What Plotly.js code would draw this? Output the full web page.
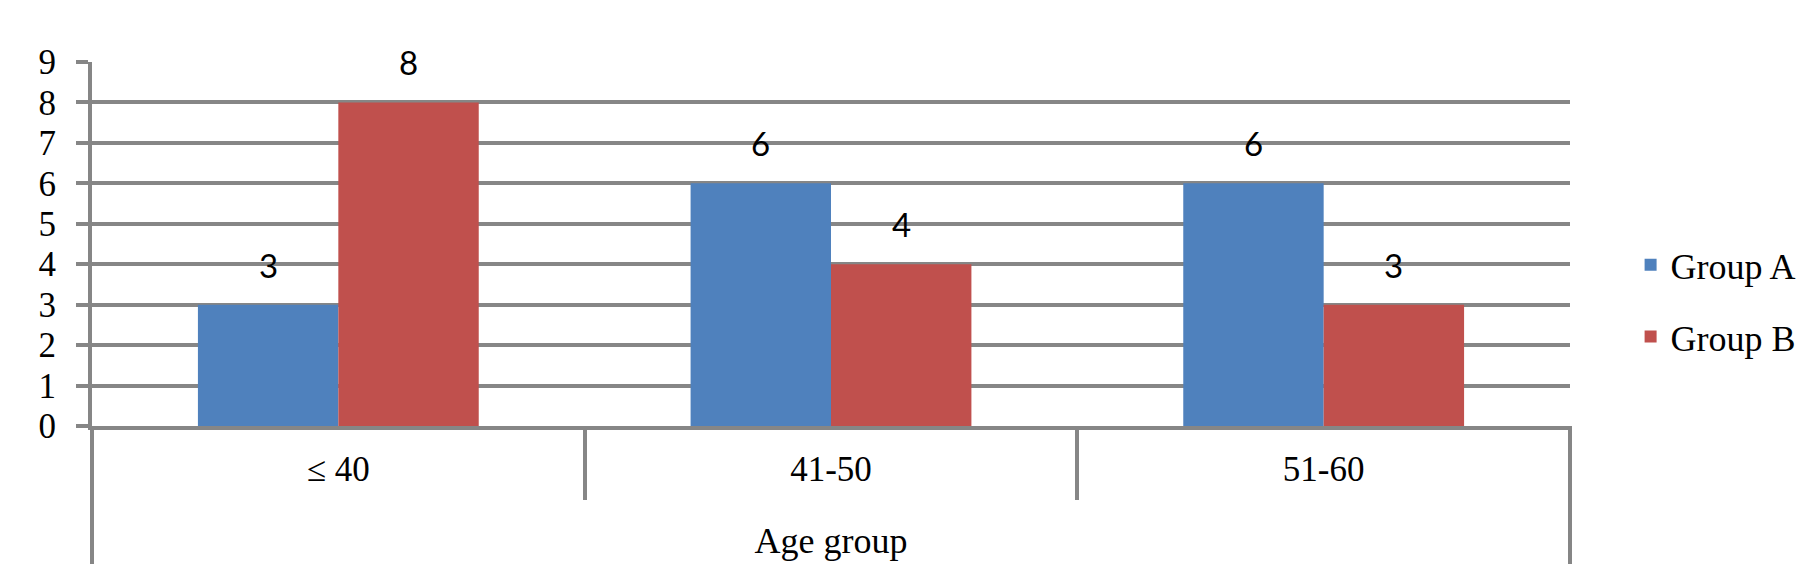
<!DOCTYPE html>
<html>
<head>
<meta charset="utf-8">
<script src="https://cdn.plot.ly/plotly-3.0.1.min.js"></script>
<style>html,body{margin:0;padding:0;background:#fff;}#chart{width:1817px;height:580px;}</style>
</head>
<body>
<div id="chart"></div>
<script>
const categories = ["≤ 40", "41-50", "51-60"];
const groupA = [3, 6, 6];
const groupB = [8, 4, 3];
const seriesNames = ["Group A", "Group B"];
const yTicks = [0, 1, 2, 3, 4, 5, 6, 7, 8, 9];
const xTitle = "Age group";

const colorA = "#4F81BD";
const colorB = "#C0504D";
const gridColor = "#868686";
const serif = "Liberation Serif, Times New Roman, serif";
const sans = "Lato, Liberation Sans, sans-serif";

const W = 1817, H = 580;
const margin = {l: 92, r: 247, t: 62, b: 154, pad: 0};
const bargap = 0.43;
const plotW = W - margin.l - margin.r;
const plotH = H - margin.t - margin.b;
const catW = plotW / categories.length;
const barW = catW * (1 - bargap) / 2;

const traces = [
  {type: "bar", name: seriesNames[0], x: categories, y: groupA, marker: {color: colorA}, legendgroup: "a", hoverinfo: "x+y"},
  {type: "bar", name: seriesNames[1], x: categories, y: groupB, marker: {color: colorB}, legendgroup: "b", hoverinfo: "x+y"}
];

const annotations = [];
[[groupA, -1], [groupB, 1]].forEach(([vals, side]) => {
  vals.forEach((v, i) => {
    annotations.push({
      x: categories[i], y: v, xref: "x", yref: "y",
      text: String(v), showarrow: false,
      xshift: side * barW / 2, yshift: 40, yanchor: "middle", xanchor: "center",
      font: {family: sans, size: 33, color: "#000"}
    });
  });
});

const outerDepth = (564 - (margin.t + plotH)) / plotH;
const shapes = [0, 1].map(px => ({
  type: "line", xref: "paper", yref: "paper",
  x0: px, x1: px, y0: 0, y1: -outerDepth,
  line: {color: gridColor, width: 4}, layer: "above"
}));

const layout = {
  width: W, height: H,
  margin: margin,
  paper_bgcolor: "#fff", plot_bgcolor: "#fff",
  barmode: "group", bargap: bargap, bargroupgap: 0,
  showlegend: true,
  legend: {
    x: 1.041, xanchor: "left", y: 0.525, yanchor: "top",
    font: {family: serif, size: 36, color: "#000"},
    traceorder: "grouped", tracegroupgap: 22,
    bgcolor: "rgba(0,0,0,0)"
  },
  xaxis: {
    type: "category",
    showline: true, linecolor: gridColor, linewidth: 4,
    ticks: "outside", tickson: "boundaries", ticklen: 70, tickwidth: 4, tickcolor: gridColor,
    ticklabelstandoff: 9,
    tickfont: {family: serif, size: 35, color: "#000"},
    showgrid: false, zeroline: false,
    title: {text: xTitle, font: {family: serif, size: 36, color: "#000"}, standoff: 41},
    automargin: false
  },
  yaxis: {
    range: [0, 9], tickvals: yTicks, ticktext: yTicks.map(String),
    showline: true, linecolor: gridColor, linewidth: 4,
    ticks: "outside", ticklen: 12, tickwidth: 4, tickcolor: gridColor,
    ticklabelstandoff: 13,
    tickfont: {family: serif, size: 35, color: "#000"},
    showgrid: true, gridcolor: gridColor, gridwidth: 4,
    zeroline: false, automargin: false, fixedrange: true
  },
  annotations: annotations,
  shapes: shapes,
  font: {family: serif}
};

Plotly.newPlot("chart", traces, layout, {displayModeBar: false, staticPlot: true});
</script>
</body>
</html>
